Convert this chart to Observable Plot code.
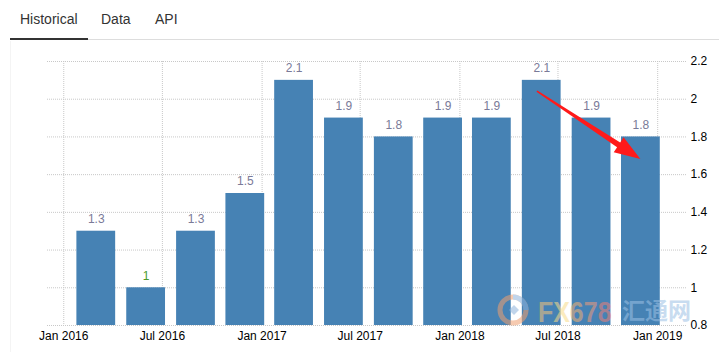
<!DOCTYPE html>
<html>
<head>
<meta charset="utf-8">
<script src="https://cdn.jsdelivr.net/npm/d3@7"></script>
<script src="https://cdn.jsdelivr.net/npm/@observablehq/plot@0.6"></script>
<style>
  html, body { margin: 0; padding: 0; background: #fff; }
  body { width: 719px; height: 352px; position: relative; overflow: hidden; font-family: Arial, "Liberation Sans", sans-serif; }
  #tabs { position: absolute; left: 0; top: 0; width: 719px; height: 41px; }
  #tabs .tab { position: absolute; top: 11px; font-size: 14px; color: #333; }
  #tabs .line { position: absolute; left: 88px; right: 0; top: 39px; height: 1px; background: #ddd; }
  #tabs .active { position: absolute; left: 10px; width: 78px; top: 38px; height: 2px; background: #333; }
  #panel { position: absolute; left: 10px; top: 41px; width: 1px; bottom: 0; background: #f4f4f4; }
  #chart { position: absolute; left: 0; top: 41px; }
  #wm { position: absolute; left: 495px; top: 292px; pointer-events: none; opacity: 0.55; white-space: nowrap; }
  #wm .fx { position: absolute; left: 43px; top: 6px; line-height: 1; font: bold 29px/1 Arial, "Liberation Sans", sans-serif; transform: scaleX(0.86); transform-origin: left center; }
  #wm .cn { position: absolute; left: 127px; top: 6px; font: bold 23px/1 "Noto Sans CJK SC", sans-serif; color: #9cc0e4; }
</style>
</head>
<body>
<div id="tabs">
  <span class="tab" style="left:20px">Historical</span>
  <span class="tab" style="left:101px">Data</span>
  <span class="tab" style="left:155px">API</span>
  <div class="line"></div>
  <div class="active"></div>
</div>
<div id="panel"></div>
<div id="chart"></div>
<div id="wm">
  <svg width="36" height="36" style="position:absolute;left:0;top:0">
    <circle cx="18" cy="18" r="13" fill="none" stroke="#f0a070" stroke-width="5"></circle>
    <path d="M18 5 A13 13 0 0 1 31 18" fill="none" stroke="#8fb4dc" stroke-width="5"></path>
    <path d="M14 18 l5 -5 l5 5 l-5 5 z" fill="#8fb4dc"></path>
  </svg>
  <span class="fx"><span style="color:#f6c27a">F</span><span style="color:#f8dc8a">X</span><span style="color:#f4b072">6</span><span style="color:#f29a7a">7</span><span style="color:#ee7f78">8</span></span>
  <span class="cn">汇通网</span>
</div>
<script>
// ---- data ----
const periods = ["2016-03-01","2016-06-01","2016-09-01","2016-12-01","2017-03-01","2017-06-01",
                 "2017-09-01","2017-12-01","2018-03-01","2018-06-01","2018-09-01","2018-12-01"];
const values = [1.3, 1.0, 1.3, 1.5, 2.1, 1.9, 1.8, 1.9, 1.9, 2.1, 1.9, 1.8];
const yTicks = [0.8, 1, 1.2, 1.4, 1.6, 1.8, 2, 2.2];
const xDomain = ["2015-12-02", "2019-02-25"];
const xTickStart = "2016-01-01", xTickEnd = "2019-01-01";
// annotation arrow (data coordinates)
const arrowFrom = {date: "2018-05-24", value: 2.04};
const arrowTo = {date: "2018-12-01", value: 1.68};

const data = periods.map((p, i) => ({date: new Date(p), value: values[i], low: values[i] <= 1}));
const yMin = yTicks[0], yMax = yTicks[yTicks.length - 1];
const xTicks = d3.utcMonth.every(6).range(new Date(xTickStart), d3.utcDay.offset(new Date(xTickEnd), 1));

const grid = {stroke: "#c8c8c8", strokeOpacity: 1, strokeDasharray: "1,1", strokeWidth: 1};

function arrowMark(index, scales) {
  const sx = scales.x(new Date(arrowFrom.date)), sy = scales.y(arrowFrom.value);
  const tx = scales.x(new Date(arrowTo.date)), ty = scales.y(arrowTo.value);
  const len = Math.hypot(tx - sx, ty - sy);
  const ux = (tx - sx) / len, uy = (ty - sy) / len;
  const nx = -uy, ny = ux;
  const headLen = 26, headHalf = 9, w0 = 0.8, w1 = 2.8;
  const bx = tx - ux * headLen, by = ty - uy * headLen;
  const pts = [
    [sx + nx * w0, sy + ny * w0],
    [bx + nx * w1, by + ny * w1],
    [bx + nx * headHalf, by + ny * headHalf],
    [tx, ty],
    [bx - nx * headHalf, by - ny * headHalf],
    [bx - nx * w1, by - ny * w1],
    [sx - nx * w0, sy - ny * w0]
  ];
  const g = d3.create("svg:g");
  g.append("polygon").attr("points", pts.map(p => p.join(",")).join(" ")).attr("fill", "#ff1a1a");
  return g.node();
}

const chart = Plot.plot({
  width: 719,
  height: 311,
  marginLeft: 47,
  marginRight: 32,
  marginTop: 20,
  marginBottom: 27,
  style: {fontFamily: "Arial, 'Liberation Sans', sans-serif", fontSize: "12px", color: "#000", background: "transparent"},
  x: {type: "utc", domain: xDomain.map(d => new Date(d)), label: null},
  y: {domain: [yMin, yMax], label: null},
  marks: [
    Plot.ruleY(yTicks, {...grid}),
    Plot.ruleX(xTicks, {...grid}),
    Plot.rectY(data, {
      x1: d => d3.utcDay.offset(d.date, -45),
      x2: d => d3.utcDay.offset(d.date, 45),
      y1: yMin, y2: "value",
      insetLeft: 5, insetRight: 5,
      fill: "#4682b4"
    }),
    Plot.text(data, {
      x: "date", y: "value", text: d => String(d.value === 1 ? "1" : d.value),
      dy: -12, lineAnchor: "middle", fontSize: 12,
      fill: d => d.low ? "#4c9a2a" : "#7a7a98"
    }),
    Plot.axisX({ticks: xTicks, tickFormat: d3.utcFormat("%b %Y"), tickSize: 0, tickPadding: 6, fill: "#000", label: null}),
    Plot.axisY({anchor: "right", ticks: yTicks, tickFormat: d => String(d), tickSize: 0, tickPadding: 3, fill: "#000", label: null}),
    arrowMark
  ]
});
document.getElementById("chart").appendChild(chart);
</script>
</body>
</html>
